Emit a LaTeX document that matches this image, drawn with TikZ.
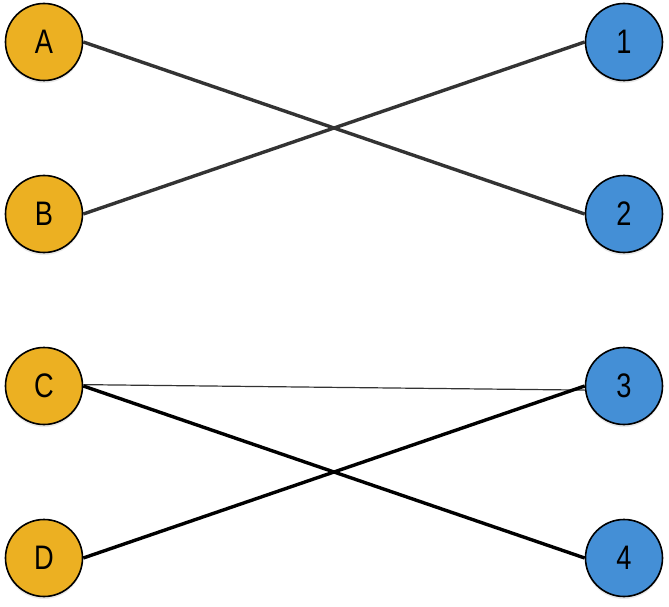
\documentclass[tikz,border=0pt]{standalone}
\usepackage{fontspec}
\setmainfont{Liberation Sans}
\newfontfamily\labelfont[FakeStretch=0.8]{Liberation Sans}
\usetikzlibrary{shadows}
\definecolor{letterfill}{HTML}{ECB022}
\definecolor{digitfill}{HTML}{448FD6}
\definecolor{edgegray}{HTML}{333333}
\begin{document}
\begin{tikzpicture}[x=1pt,y=-1pt,
  vertex/.style={circle,draw=black,line width=1.6pt,minimum size=77pt,inner sep=0pt,
    font=\labelfont\fontsize{34}{34}\selectfont,
    drop shadow={shadow xshift=0pt,shadow yshift=-2.5pt,opacity=0.18}},
  leftv/.style={vertex,fill=letterfill},
  rightv/.style={vertex,fill=digitfill},
  heavy/.style={line width=3.4pt,draw=edgegray},
  heavyblack/.style={line width=3.4pt,draw=black},
  light/.style={line width=1.2pt,draw=black!80}]
\useasboundingbox (0,0) rectangle (669,607);
\node[leftv]  (A) at (44,42)  {A};
\node[leftv]  (B) at (44,214) {B};
\node[leftv]  (C) at (44,386) {C};
\node[leftv]  (D) at (44,558) {D};
\node[rightv] (n1) at (624,42)  {1};
\node[rightv] (n2) at (624,214) {2};
\node[rightv] (n3) at (624,386) {3};
\node[rightv] (n4) at (624,558) {4};
\draw[heavy] (A.east) -- (n2.west);
\draw[heavy] (B.east) -- (n1.west);
\draw[light] (C.2) -- (n3.186);
\draw[heavyblack] (C.east) -- (n4.west);
\draw[heavyblack] (D.east) -- (n3.west);
\end{tikzpicture}
\end{document}
